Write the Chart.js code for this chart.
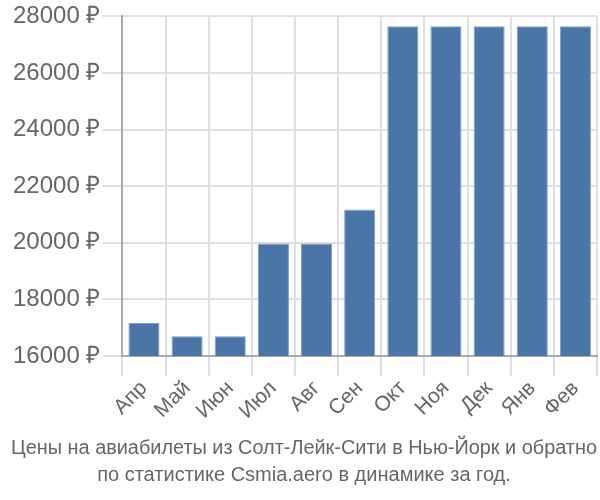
<!DOCTYPE html>
<html>
<head>
<meta charset="utf-8">
<script src="https://cdn.jsdelivr.net/npm/chart.js@4"></script>
<style>
  html, body { margin: 0; padding: 0; background: #fff; }
  #wrap { width: 600px; height: 500px; }
</style>
</head>
<body>
<div id="wrap"><canvas id="chart" width="600" height="500"></canvas></div>
<script>
const months = ["Апр", "Май", "Июн", "Июл", "Авг", "Сен", "Окт", "Ноя", "Дек", "Янв", "Фев"];
const prices = [17170, 16700, 16700, 19980, 19980, 21180, 27650, 27650, 27650, 27650, 27650];
const titleLines = [
  "Цены на авиабилеты из Солт-Лейк-Сити в Нью-Йорк и обратно",
  "по статистике Csmia.aero в динамике за год."
];

const ctx = document.getElementById("chart").getContext("2d");

new Chart(ctx, {
  type: "bar",
  data: {
    labels: months,
    datasets: [
      {
        data: prices,
        backgroundColor: "#4a76a7",
        borderColor: "#7a9cc6",
        borderWidth: 1,
      },
    ],
  },
  options: {
    responsive: false,
    animation: false,
    layout: { padding: { left: 11, right: 3, top: 5, bottom: 11 } },
    plugins: {
      legend: { display: false },
      tooltip: { enabled: false },
      title: {
        display: true,
        position: "bottom",
        text: titleLines,
        color: "#666",
        font: { family: "Liberation Sans, sans-serif", size: 20, weight: "normal", lineHeight: 1.35 },
        padding: { top: 11, bottom: 0 },
      },
    },
    scales: {
      x: {
        grid: { color: "#e0e0e0", lineWidth: 2, tickLength: 20, offset: true },
        border: { color: "#aaa", width: 2 },
        ticks: {
          color: "#666",
          font: { family: "Liberation Sans, sans-serif", size: 21 },
          maxRotation: 45,
          minRotation: 45,
          padding: 0,
        },
      },
      y: {
        min: 16000,
        max: 28000,
        grid: { color: "#e0e0e0", lineWidth: 2, tickLength: 20 },
        border: { color: "#aaa", width: 2 },
        ticks: {
          stepSize: 2000,
          color: "#666",
          font: { family: "Liberation Sans, sans-serif", size: 24 },
          padding: 2,
          callback: function (value) {
            return value + " ₽";
          },
        },
      },
    },
  },
});
</script>
</body>
</html>
